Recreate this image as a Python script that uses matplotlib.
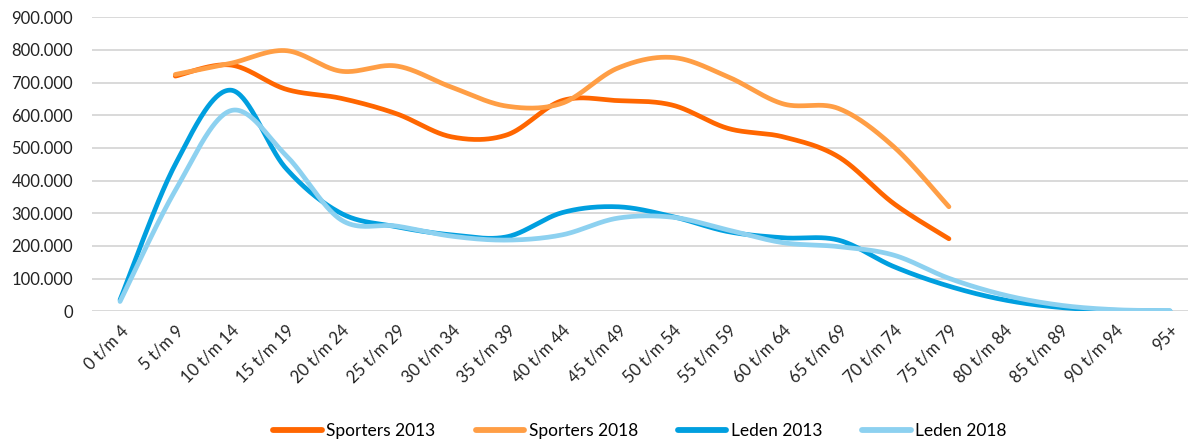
import numpy as np
import matplotlib
matplotlib.use("Agg")
import matplotlib.pyplot as plt
from matplotlib.ticker import FuncFormatter

plt.rcParams['font.family'] = ['Lato', 'DejaVu Sans']

# leeftijdscategorieen
categorieen = ["0 t/m 4", "5 t/m 9", "10 t/m 14", "15 t/m 19", "20 t/m 24", "25 t/m 29",
               "30 t/m 34", "35 t/m 39", "40 t/m 44", "45 t/m 49", "50 t/m 54", "55 t/m 59",
               "60 t/m 64", "65 t/m 69", "70 t/m 74", "75 t/m 79", "80 t/m 84", "85 t/m 89",
               "90 t/m 94", "95+"]

# waarden (x 1000), None = geen gegevens
sporters_2013 = [None, 720, 754, 680, 652, 605, 534, 540, 645, 645, 631, 560, 534, 473, 330, 222,
                 None, None, None, None]
sporters_2018 = [None, 725, 759, 798, 735, 751, 686, 628, 637, 744, 777, 718, 635, 621, 504, 320,
                 None, None, None, None]
leden_2013 = [35, 450, 677, 438, 300, 259, 234, 228, 302, 320, 290, 244, 225, 218, 137, 77,
              35, 12, 3, 1]
leden_2018 = [30, 370, 614, 478, 280, 261, 230, 218, 234, 285, 288, 249, 210, 198, 172, 101,
              50, 19, 5, 2]

reeksen = [
    ("Sporters 2013", sporters_2013, "#FF6600"),
    ("Sporters 2018", sporters_2018, "#FF9E45"),
    ("Leden 2013", leden_2013, "#009FDF"),
    ("Leden 2018", leden_2018, "#8DD1F0"),
]


def excel_smooth(x, y, n=40):
    # Bezier-smoothing zoals Excel (Catmull-Rom, 1/6)
    x = np.asarray(x, float)
    y = np.asarray(y, float)
    px, py = [], []
    for i in range(len(x) - 1):
        i0 = max(i - 1, 0)
        i3 = min(i + 2, len(x) - 1)
        c1x = x[i] + (x[i + 1] - x[i0]) / 6
        c1y = y[i] + (y[i + 1] - y[i0]) / 6
        c2x = x[i + 1] - (x[i3] - x[i]) / 6
        c2y = y[i + 1] - (y[i3] - y[i]) / 6
        t = np.linspace(0, 1, n)
        bx = (1 - t)**3 * x[i] + 3 * (1 - t)**2 * t * c1x + 3 * (1 - t) * t**2 * c2x + t**3 * x[i + 1]
        by = (1 - t)**3 * y[i] + 3 * (1 - t)**2 * t * c1y + 3 * (1 - t) * t**2 * c2y + t**3 * y[i + 1]
        px.extend(bx)
        py.extend(by)
    return np.array(px), np.array(py)


fig = plt.figure(figsize=(11.88, 4.43), dpi=100)
ax = fig.add_axes([92.4 / 1188, 1 - 311.3 / 443, 1105.2 / 1188, 294 / 443])

for naam, waarden, kleur in reeksen:
    idx = [i for i, v in enumerate(waarden) if v is not None]
    vals = [waarden[i] * 1000 for i in idx]
    sx, sy = excel_smooth(idx, vals)
    ax.plot(sx, sy, color=kleur, lw=3.4, label=naam, solid_capstyle='round', zorder=3)

ax.set_xlim(-0.5, 19.5)
ax.set_ylim(0, 900000)
ax.set_yticks(np.arange(0, 900001, 100000))
ax.yaxis.set_major_formatter(FuncFormatter(lambda v, p: f"{int(v):,}".replace(",", ".")))
ax.set_xticks(range(len(categorieen)))
ax.set_xticklabels(categorieen, rotation=45, ha='right', rotation_mode='anchor')
ax.grid(axis='y', color='#D9D9D9', lw=1.4, zorder=0)
ax.set_axisbelow(True)
for s in ax.spines.values():
    s.set_visible(False)
ax.tick_params(axis='both', length=0, labelsize=12, colors='#222222')
ax.tick_params(axis='y', pad=14)
ax.tick_params(axis='x', pad=8)

leg = fig.legend(loc='center', bbox_to_anchor=(640 / 1188, 1 - 431 / 443), ncol=4, frameon=False,
                 fontsize=12.5, handlelength=2.8, handletextpad=0.25, columnspacing=2.3)
for h in leg.get_lines():
    h.set_linewidth(4.2)

fig.savefig("out.png", dpi=100)
